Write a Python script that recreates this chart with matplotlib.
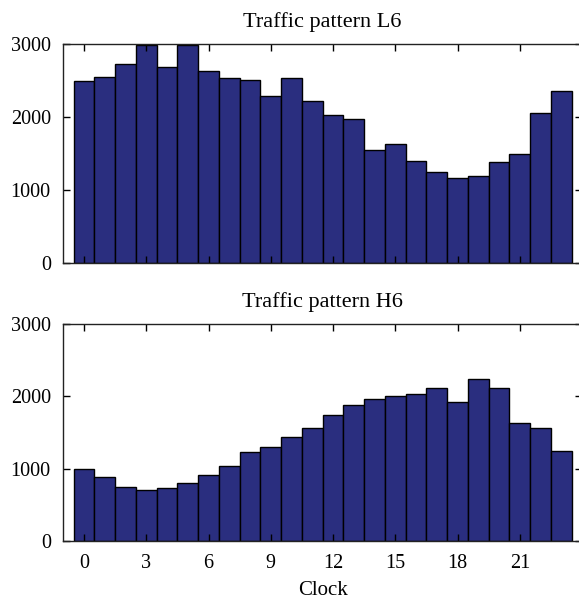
import matplotlib
matplotlib.use('Agg')
import matplotlib.pyplot as plt
import numpy as np

matplotlib.rcParams['font.family'] = 'Liberation Serif'

hours = np.arange(24)
traffic_l6 = [2495, 2545, 2727, 2980, 2686, 2980, 2632, 2532, 2509, 2282, 2536, 2218,
              2018, 1968, 1541, 1627, 1391, 1236, 1159, 1191, 1377, 1491, 2045, 2355]
traffic_h6 = [1002, 882, 749, 707, 730, 809, 914, 1043, 1236, 1305, 1433, 1557,
              1737, 1879, 1966, 1998, 2035, 2113, 1916, 2237, 2118, 1631, 1567, 1240]
xticks = [0, 3, 6, 9, 12, 15, 18, 21]
yticks = [0, 1000, 2000, 3000]

W, H = 579, 599
fig = plt.figure(figsize=(W/100, H/100), dpi=100)

navy = '#2A2E7F'

def panel(rect, values, title, show_xlabels):
    ax = fig.add_axes(rect)
    ax.bar(hours, values, width=1.0, color=navy, edgecolor='black', linewidth=1.0)
    ax.set_xlim(-1, 24)
    ax.set_ylim(0, 3000)
    ax.set_xticks(xticks)
    ax.set_yticks(yticks)
    ax.tick_params(direction='in', top=True, right=True, length=5, width=1,
                   labelsize=14.5, pad=9, colors='black')
    if not show_xlabels:
        ax.set_xticklabels([])
    for s in ax.spines.values():
        s.set_linewidth(1.0)
        s.set_color('#222222')
    # right edge of the box sits past the canvas edge
    ax.spines['right'].set_visible(False)
    ax.set_title(title, fontsize=16, pad=12)
    return ax

# axes boxes in pixels: left, right, top, bottom
left, right = 63.3, 582.0
top_ax = panel([left/W, 1 - 262.7/H, (right-left)/W, (262.7-43.7)/H], traffic_l6,
               'Traffic pattern L6', False)
bot_ax = panel([left/W, 1 - 541.3/H, (right-left)/W, (541.3-323.7)/H], traffic_h6,
               'Traffic pattern H6', True)
bot_ax.set_xlabel('Clock', fontsize=15, labelpad=6)

fig.savefig('out.png', dpi=100)
